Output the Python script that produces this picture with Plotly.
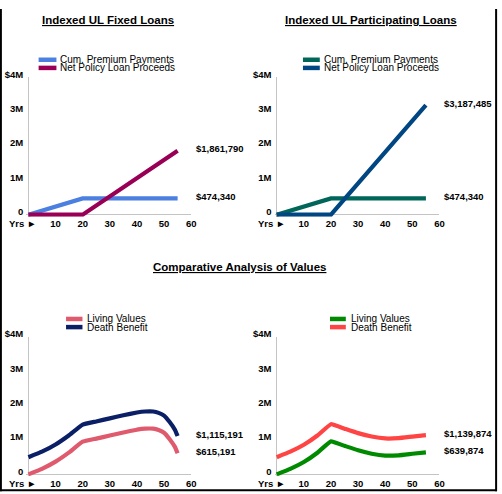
import plotly.graph_objects as go

W, H = 502, 494
FONT = "Liberation Sans, Arial, Helvetica, sans-serif"

# ---------------- data ----------------
years_loans = [0, 20, 55]
premium_fixed = [0, 474340, 474340]
loan_fixed = [0, 0, 1861790]
premium_part = [0, 474340, 474340]
loan_part = [0, 0, 3187485]

years_left = [0, 5, 10, 15, 20, 25, 30, 35, 40, 43, 46, 48, 50, 52, 54, 55]
living_left = [0, 160000, 370000, 640000, 950000, 1040000, 1130000, 1220000,
               1300000, 1330000, 1330000, 1290000, 1210000, 1030000, 800000, 615191]
death_left = [500000, 660000, 870000, 1140000, 1450000, 1540000, 1630000, 1720000,
              1800000, 1830000, 1830000, 1790000, 1710000, 1530000, 1300000, 1115191]

years_right = [0, 5, 10, 15, 20, 25, 30, 35, 40, 45, 50, 55]
living_right = [0, 160000, 360000, 630000, 960000, 830000, 700000, 600000,
                545000, 555000, 600000, 639874]
death_right = [500000, 660000, 860000, 1130000, 1460000, 1330000, 1200000, 1100000,
               1045000, 1055000, 1100000, 1139874]

y_tickvals = [0, 1000000, 2000000, 3000000, 4000000]
y_ticktext = ["0", "1M", "2M", "3M", "$4M"]
x_tickvals = [10, 20, 30, 40, 50, 60]
x_ticktext = ["10", "20", "30", "40", "50", "60"]

titles = ["Indexed UL Fixed Loans", "Indexed UL Participating Loans",
          "Comparative Analysis of Values"]
names_loans = ["Cum. Premium Payments", "Net Policy Loan Proceeds"]
names_values = ["Living Values", "Death Benefit"]

# ---------------- layout helpers ----------------
SX = 2.74      # px per year
SY = 35.0      # px per million
XR = [-0.8, 60]
YR = [-60000, 4000000]

# origin (px of x=0, px of y=0) for each panel
panels = [
    dict(ox=28.7, oy=209.5, shape="linear"),   # top-left
    dict(ox=279.5, oy=209.5, shape="linear"),  # top-right
    dict(ox=28.7, oy=474.0, shape="spline"),   # bottom-left
    dict(ox=279.5, oy=474.0, shape="spline"),  # bottom-right
]

series = [
    [(years_loans, premium_fixed, names_loans[0], "#4b7fe0"),
     (years_loans, loan_fixed, names_loans[1], "#990055")],
    [(years_loans, premium_part, names_loans[0], "#006659"),
     (years_loans, loan_part, names_loans[1], "#004682")],
    [(years_left, living_left, names_values[0], "#e05a6e"),
     (years_left, death_left, names_values[1], "#0b1f66")],
    [(years_right, living_right, names_values[0], "#008a00"),
     (years_right, death_right, names_values[1], "#ff4444")],
]

# legend swatch positions (px): x0, x1, y_first, y_second, text_x
legend_pos = [
    (39, 57, 51.7, 60.0, 59),
    (306, 323, 51.7, 60.0, 325),
    (66.7, 83.3, 315.7, 324.0, 86),
    (333.3, 349.3, 315.7, 324.0, 353),
]

fig = go.Figure()
layout = dict(
    width=W, height=H, autosize=False,
    margin=dict(l=0, r=0, t=0, b=0, pad=0),
    paper_bgcolor="white", plot_bgcolor="white",
    showlegend=False,
    font=dict(family=FONT, color="black"),
)
annotations = []
shapes = []


def paper_x(p):
    return p / W


def paper_y(p):
    return 1 - p / H


for i, (pn, ser) in enumerate(zip(panels, series)):
    k = "" if i == 0 else str(i + 1)
    xd = [paper_x(pn["ox"] + XR[0] * SX), paper_x(pn["ox"] + XR[1] * SX)]
    yd = [paper_y(pn["oy"] - YR[0] / 1e6 * SY), paper_y(pn["oy"] - YR[1] / 1e6 * SY)]
    layout["xaxis" + k] = dict(
        domain=xd, range=XR, anchor="y" + k, showgrid=False, showline=False,
        zeroline=True, zerolinecolor="#c4c4c4", zerolinewidth=1,
        tickmode="array", tickvals=x_tickvals, ticktext=x_ticktext, ticks="",
        tickfont=dict(family=FONT, size=9.5, color="black", weight="bold"),
        fixedrange=True,
    )
    layout["yaxis" + k] = dict(
        domain=yd, range=YR, anchor="x" + k, showgrid=False, showline=False,
        zeroline=True, zerolinecolor="#c4c4c4", zerolinewidth=1,
        tickmode="array", tickvals=y_tickvals, ticktext=y_ticktext, ticks="",
        tickfont=dict(family=FONT, size=9.5, color="black", weight="bold"),
        ticklabelshift=-3, ticklabelstandoff=2,
        fixedrange=True,
    )
    for (xs, ys, name, col) in ser:
        fig.add_trace(go.Scatter(
            x=xs, y=ys, name=name, mode="lines",
            line=dict(color=col, width=4.2, shape=pn["shape"], smoothing=0.3),
            xaxis="x" + k, yaxis="y" + k, hoverinfo="skip",
        ))
        # end-value label
        annotations.append(dict(
            xref="x" + k, yref="y" + k, x=60, y=ys[-1],
            text="${:,.0f}".format(ys[-1]), showarrow=False,
            xanchor="left", yanchor="middle", xshift=3, yshift=2,
            font=dict(family=FONT, size=9.5, color="black", weight="bold"),
        ))
    # legend swatches + text
    lx0, lx1, ly1, ly2, tx = legend_pos[i]
    for (xs, ys, name, col), ly in zip(ser, [ly1, ly2]):
        shapes.append(dict(
            type="line", xref="paper", yref="paper",
            x0=paper_x(lx0), x1=paper_x(lx1), y0=paper_y(ly), y1=paper_y(ly),
            line=dict(color=col, width=4.5),
        ))
        annotations.append(dict(
            xref="paper", yref="paper", x=paper_x(tx), y=paper_y(ly),
            text=name, showarrow=False, xanchor="left", yanchor="middle",
            font=dict(family=FONT, size=10, color="black"),
        ))
    # "Yrs ►" label at the x origin
    annotations.append(dict(
        xref="paper", yref="paper", x=paper_x(pn["ox"] + 10), y=paper_y(pn["oy"] + 9),
        text="Yrs ►", showarrow=False, xanchor="right", yanchor="middle",
        font=dict(family=FONT, size=9.5, color="black", weight="bold"),
    ))

# titles
title_pos = [(109, 11), (375, 11), (242, 263)]
for t, (tx, ty) in zip(titles, title_pos):
    annotations.append(dict(
        xref="paper", yref="paper", x=paper_x(tx), y=paper_y(ty),
        text="<u><b>" + t + "</b></u>", showarrow=False,
        xanchor="center", yanchor="middle",
        font=dict(family=FONT, size=11.5, color="black"),
    ))

# outer frame (left, right, bottom)
frame = [
    (0.9, 0, 0.9, 491.3),
    (501.1, 0, 501.1, 491.3),
    (0, 490.3, 502, 490.3),
]
for x0, y0, x1, y1 in frame:
    shapes.append(dict(
        type="line", xref="paper", yref="paper",
        x0=paper_x(x0), y0=paper_y(y0), x1=paper_x(x1), y1=paper_y(y1),
        line=dict(color="black", width=2),
    ))

layout["annotations"] = annotations
layout["shapes"] = shapes
fig.update_layout(**layout)

fig.write_html("out.html", config={"displayModeBar": False, "staticPlot": True},
               post_script="document.body.style.margin='0';document.body.style.overflow='hidden';")
